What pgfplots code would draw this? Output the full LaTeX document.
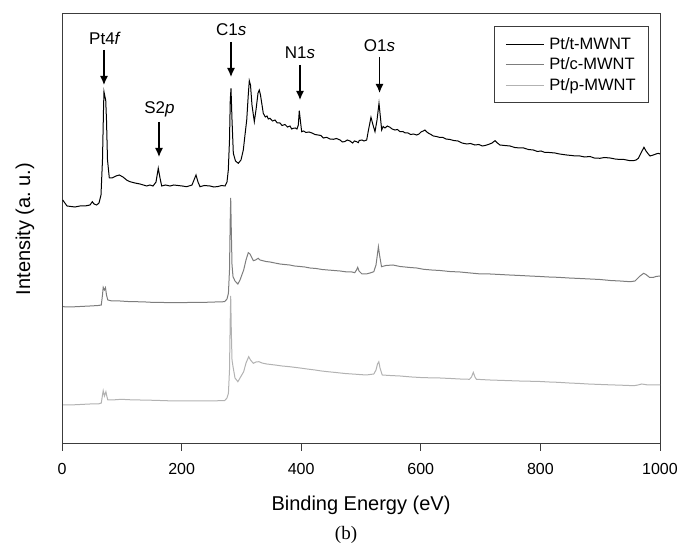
\documentclass[border=0pt]{standalone}
\usepackage{pgfplots}
\pgfplotsset{compat=1.18}
\usepackage{fontspec}
\setmainfont{Liberation Sans}
\newfontfamily\timesfont{Liberation Serif}
\usetikzlibrary{arrows.meta}
\definecolor{axgray}{RGB}{60,60,60}
\definecolor{cgray}{RGB}{125,125,125}
\definecolor{pgray}{RGB}{178,178,178}
\begin{document}
\begin{tikzpicture}[x=1pt,y=1pt]
\useasboundingbox (0,0) rectangle (681,546);
\begin{axis}[
  at={(62pt,102pt)}, anchor=south west,
  scale only axis, width=598pt, height=430pt,
  xmin=0, xmax=1000, ymin=0, ymax=430,
  clip=false,
  ytick=\empty,
  xtick={0,200,400,600,800,1000},
  xtick pos=left,
  tick align=outside,
  major tick length=7pt,
  every tick/.style={axgray, line width=1pt},
  axis line style={axgray, line width=1pt},
  /pgf/number format/assume math mode=true,
  /pgf/number format/1000 sep={},
  xticklabel style={font=\fontsize{16}{19}\selectfont, anchor=center, yshift=-18pt},
  xlabel={Binding Energy (eV)},
  ylabel={Intensity (a.\ u.)},
  xlabel style={font=\fontsize{20}{24}\selectfont, at={(axis description cs:0.5,0)}, anchor=center, yshift=-61pt},
  ylabel style={font=\fontsize{20}{24}\selectfont, at={(axis description cs:0,0.5)}, anchor=center, yshift=37pt},
  legend style={at={(axis description cs:0.9816,0.972)}, anchor=north east,
    draw=axgray, line width=0.8pt, font=\fontsize{16.5}{20}\selectfont,
    inner xsep=11pt, inner ysep=9pt, row sep=3pt, cells={anchor=west},
    /tikz/every odd column/.append style={column sep=3pt}},
  legend image code/.code={\draw[#1, line width=1.1pt] (0pt,0pt) -- (38pt,0pt);},
]
\addplot[black, line width=1pt] coordinates {
(1.2,244) (8.4,238) (15,237.5) (21.7,237) (30,238) (38.5,238) (46.8,239) (50.7,242.3) (53.5,240) (58.0,239) (61.9,241)
(65.2,249) (67.7,284) (69.4,334) (70.2,352.3) (71.9,347) (73.1,344) (74.4,324) (76.1,284) (79.1,266) (83.6,266)
(90.3,268) (95.8,269) (102.0,267) (108,264) (113.7,262.3) (122,261) (130.4,260) (136,259) (141.6,258) (147,259) (152.2,258)
(157.2,262) (161.0,275.7) (163.9,266) (166.7,258) (173,259) (180.6,258) (187,259) (194.0,258.5) (201,258) (208.5,257.3)
(217.4,259) (224.1,269) (227.4,262) (230.8,257.3) (238,258.5) (247.5,258) (254,257) (260.9,257.5) (267,258.5) (272.6,258)
(275.9,262) (278.1,274) (280.1,304) (281.4,344) (282.6,355.7) (284.3,324) (286.5,290.7) (290.1,283) (294.8,280.7)
(299.3,284) (303.2,294) (306.0,309) (308.9,324) (311.5,349) (313.2,363.3) (315.2,359) (317.7,339) (321.6,322.3)
(324.4,334) (327.8,351) (329.9,354) (331.9,349) (336.6,330.7) (340,327) (342.8,328) (345,325) (347.8,325.7) (352,323)
(356.2,324) (360,321) (364.5,321) (368,318.5) (372.9,319.5) (377,317) (381.3,318) (384,315) (386.8,315.7) (390,316) (393.0,315)
(395.2,319) (396.8,333.3) (398.5,324) (400.8,312.3) (404,313) (408.0,311.5) (413,312) (418.1,311) (423,309.5) (428.1,309)
(433,308.5) (437,306) (442.6,306.7) (448,305) (453.7,304.7) (459,305.5) (464.9,304) (469,302) (473.2,302.5) (477,304)
(481.6,303) (486,301) (489,303) (492.8,302.3) (495.5,301.3) (497,303.5) (501.7,304) (505,303) (509.5,304) (512.5,314)
(516.7,326.7) (520.1,319) (523.4,312.3) (526.8,324) (530.1,340.7) (532.6,326) (534.6,314) (537,317.5) (540.1,316) (544,318)
(548.5,316.7) (552,315) (556.9,314) (561,314.5) (565.2,312.3) (570,312.5) (574,311) (578.6,311) (583,309.5) (588,310)
(593.1,309) (597,310) (600.3,312) (604,313) (607.0,314) (610,312) (613.7,310.5) (617,309.5) (620.9,308) (626,307.5)
(632.1,306.5) (637,306.5) (642,305) (648.8,304.5) (655,303.5) (662.2,303) (669,301) (676.8,300) (683,300.5) (690.6,299)
(697,299.5) (703,298) (707.4,298.5) (713,299.5) (719.1,301) (724.1,303.3) (728,301) (732.4,299) (740,298.5) (749.2,298)
(757,296.5) (765.9,296) (772,296) (780,294.5) (788.1,294) (795,292.5) (801,293) (807.7,291.5) (815,291.5) (824.4,291)
(832,290) (838,289.5) (844.0,289) (852,288.5) (859,288) (866.2,288) (874,287) (882.9,287.5) (890,286) (899.7,285.7)
(907,286.5) (916.4,286) (925,285) (933.1,284.5) (940,284.5) (948,283.5) (955.4,283.3) (960,284) (963.7,285.7) (968.2,291)
(973.2,296.7) (976.6,293) (980.4,290) (983.3,288) (988.8,289) (993.3,290) (997.2,290.7) (1000,290)
};
\addlegendentry{Pt/t-MWNT}
\addplot[cgray, line width=1pt] coordinates {
(1.8,137.3) (13.4,137) (30.1,137.5) (46.8,138) (60.7,138.5) (65.7,139) (67.7,149) (68.9,156.7) (70.9,154) (72.7,156.3)
(74.4,149) (76.6,144) (83.6,143) (97.0,143) (110,142.5) (124.6,142.3) (140,142) (155.5,141.5) (170,141.5) (188.6,141.3)
(210,141.5) (230.8,141.5) (255.9,142) (271.9,142.3) (275.9,145) (278.3,150.7) (280.1,174) (281.3,224) (282.1,246)
(283.1,214) (284.3,179) (286.0,167.3) (289.3,163) (294.1,160) (297.7,164) (303.8,174) (307.7,184) (311.5,191.3)
(314.4,190) (319.9,183.3) (323.6,184) (328.1,185.7) (331.1,184) (335.8,183.3) (341,182.5) (347.8,182) (356,181) (364.5,180)
(372,179.5) (380.6,179) (389,178) (398.0,177.5) (406,177) (414.7,176) (425,175.5) (435,174.5) (444.6,174) (455,173.5)
(464.9,173) (477,172) (485,172) (489.5,171.3) (492.5,174) (494.5,176.7) (496.7,173) (501.7,170) (508.7,170) (515.1,171)
(521.4,172.3) (525.1,179) (527.3,189) (529.1,197.3) (531.0,189) (534.3,177.3) (541.8,178.5) (553.5,179) (565.2,177.5)
(581.9,176.5) (593,176) (604.7,174.7) (618,174) (632.1,173.5) (648,172.5) (665.6,172) (683,171) (700.7,170) (716,170)
(732.4,169.5) (748,169) (765.9,168.5) (782,168) (799.3,167.5) (814,167) (828.6,166.7) (848,166) (866.2,165.5) (883,165)
(899.7,164.5) (917,163.5) (933.1,163) (950.2,162.3) (958.2,163) (966.6,168) (972.6,170.7) (976.6,169.5) (982.3,166.7)
(988.3,166.5) (993.3,167.5) (1000,168)
};
\addlegendentry{Pt/c-MWNT}
\addplot[pgray, line width=1pt] coordinates {
(1.8,39) (13.4,39) (30.1,39.5) (46.8,40) (60.7,40) (65.7,41) (67.7,49) (68.9,53.3) (70.9,48) (73.4,52.3) (74.9,48)
(76.6,44) (83.6,44) (99.0,44.7) (115,44.2) (130.4,44) (147,43.8) (163.9,43.5) (188.6,43) (210,43) (230.8,43) (250,43.2)
(271.9,43.3) (275.9,46) (278.3,50.7) (280.1,74) (281.3,124) (282.1,148) (283.1,114) (284.3,84) (286.0,77.3) (289.3,66)
(294.1,62.3) (297.7,66) (303.8,72.3) (307.7,81) (312.2,87.3) (315.2,84) (319.9,80.7) (324.4,82) (329.4,82.3) (334.4,81)
(342.3,80) (356.2,79) (368,78) (380.6,77.3) (398.0,76) (410,75) (423.1,74) (434,73) (444.6,72.3) (458,71.5) (473.2,70.5)
(490,69.8) (508.7,69) (515.1,69.5) (521.4,70) (525.1,74) (527.6,80) (529.8,82.3) (531.8,76) (535.5,69) (548.5,68.5)
(565.2,68) (585,67) (604.7,66.3) (618,66.2) (632.1,66) (650,65.5) (665.6,65) (681.4,64.7) (684.8,67) (687.8,71.7)
(690.6,67) (693.0,64.7) (715.7,64) (740,63.5) (764.5,63) (780,62.8) (799.3,62.5) (815,62) (828.6,61.7) (848,61)
(866.2,60.5) (880,60) (892.6,59.7) (910,59.3) (924.7,59) (940,58.7) (956.5,58.3) (963,59) (969.4,60) (975,59.5)
(979.9,59) (990,59) (1000,59)
};
\addlegendentry{Pt/p-MWNT}
% annotations
\draw[black, line width=1.3pt, -{Latex[length=9pt,width=8pt]}] (axis cs:70.2,394) -- (axis cs:70.2,359);
\node[font=\fontsize{17}{20}\selectfont] at (axis cs:72,406) {Pt4\textit{f}};
\draw[black, line width=1.3pt, -{Latex[length=9pt,width=8pt]}] (axis cs:162.2,322) -- (axis cs:162.2,287);
\node[font=\fontsize{17}{20}\selectfont] at (axis cs:163,335) {S2\textit{p}};
\draw[black, line width=1.3pt, -{Latex[length=9pt,width=8pt]}] (axis cs:282.6,402) -- (axis cs:282.6,367);
\node[font=\fontsize{17}{20}\selectfont] at (axis cs:283,414) {C1\textit{s}};
\draw[black, line width=1.3pt, -{Latex[length=9pt,width=8pt]}] (axis cs:398,379) -- (axis cs:398,344);
\node[font=\fontsize{17}{20}\selectfont] at (axis cs:398,391) {N1\textit{s}};
\draw[black, line width=1.3pt, -{Latex[length=9pt,width=8pt]}] (axis cs:531,387) -- (axis cs:531,351);
\node[font=\fontsize{17}{20}\selectfont] at (axis cs:531,398) {O1\textit{s}};
\end{axis}
\node[font=\timesfont\fontsize{19}{22}\selectfont] at (346,11) {(b)};
\end{tikzpicture}
\end{document}
